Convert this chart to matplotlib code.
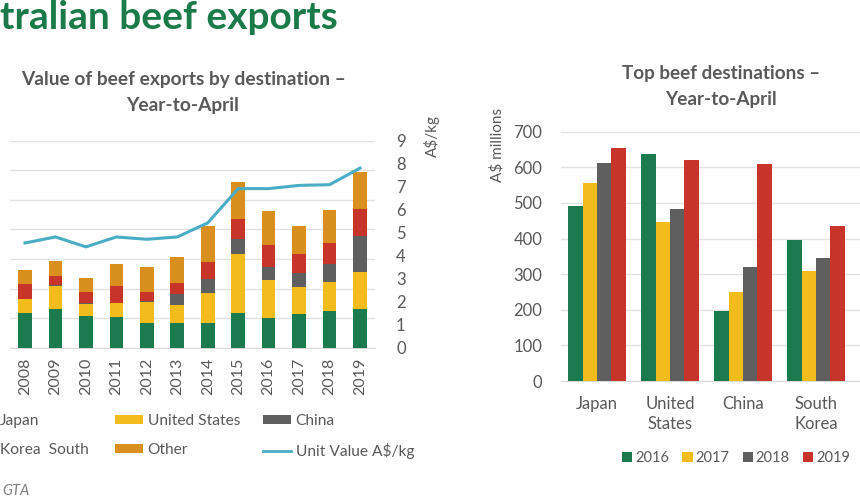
import numpy as np
import matplotlib
matplotlib.use("Agg")
import matplotlib.pyplot as plt
from matplotlib.patches import Patch
from matplotlib.lines import Line2D

plt.rcParams['font.family'] = ['Lato', 'DejaVu Sans']

# ---------------- data ----------------
years = [str(y) for y in range(2008, 2020)]
japan = [593, 649, 536, 525, 423, 423, 423, 593, 497, 565, 621, 649]
united_states = [226, 395, 203, 226, 350, 294, 497, 994, 649, 457, 485, 638]
china = [10, 10, 10, 10, 10, 192, 248, 248, 209, 237, 310, 604]
korea_south = [243, 158, 192, 282, 164, 181, 277, 344, 384, 322, 361, 452]
other = [237, 254, 243, 378, 418, 440, 615, 621, 565, 480, 553, 621]
unit_value = [4.55, 4.81, 4.38, 4.81, 4.71, 4.81, 5.42, 6.91, 6.91, 7.05, 7.08, 7.80]

destinations = ['Japan', 'United\nStates', 'China', 'South\nKorea', '']
top_years = ['2016', '2017', '2018', '2019']
v2016 = [492, 637, 197, 396, 579]
v2017 = [557, 446, 249, 310, np.nan]
v2018 = [611, 483, 321, 344, np.nan]
v2019 = [653, 621, 609, 435, np.nan]

# ---------------- style ----------------
GREEN = '#1B7A4E'
YELLOW = '#F2BC1C'
GREY = '#5F5F5F'
RED = '#C7352A'
ORANGE = '#D98F1E'
LINE = '#4BACC6'
TXT = '#595959'
GRID = '#E3E3E3'

W, H = 860, 500
fig = plt.figure(figsize=(W / 100, H / 100), dpi=100)
fig.patch.set_facecolor('white')

def fx(px):
    return px / W

def fy(py):
    return 1 - py / H

# slide heading (its start is cropped off in the reference image)
fig.text(fx(338), fy(29), 'tralian beef exports', ha='right', va='baseline',
         fontsize=28, fontweight='bold', color='#1B7A4A')

# ---------------- left chart ----------------
axL = fig.add_axes([fx(9.8), fy(347.7), (375.2 - 9.8) / W, (347.7 - 140.5) / H])
x = np.arange(len(years))
bw = 0.45
series = [(japan, GREEN, 'Japan'), (united_states, YELLOW, 'United States'),
          (china, GREY, 'China'), (korea_south, RED, 'Korea  South'),
          (other, ORANGE, 'Other')]
bottom = np.zeros(len(years))
for vals, col, lab in series:
    axL.bar(x, vals, bw, bottom=bottom, color=col, zorder=3)
    bottom += np.array(vals)
axL.set_xlim(-0.5, 11.5)
axL.set_ylim(0, 3500)
axL.set_yticks(np.arange(0, 3501, 500))
axL.yaxis.grid(True, color=GRID, lw=1, zorder=0)
axL.set_xticks(x)
axL.set_xticklabels(years, rotation=90, fontsize=11.5, color=TXT)
axL.tick_params(axis='x', length=0, pad=7)
for s in axL.spines.values():
    s.set_visible(False)
axL.spines['bottom'].set_visible(True)
axL.spines['bottom'].set_color('#D9D9D9')

axR = axL.twinx()
axR.plot(x, unit_value, color=LINE, lw=2.2, zorder=4)
axR.set_ylim(0, 9)
axR.set_yticks(range(0, 10))
axR.tick_params(axis='y', length=0, pad=15, labelsize=12, labelcolor=TXT)
for s in axR.spines.values():
    s.set_visible(False)
axL.tick_params(axis='y', left=False, right=False, labelleft=False, labelright=False)
fig.text(fx(432), fy(136), 'A$/kg', rotation=90, ha='center', va='center',
         fontsize=11, color=TXT)

fig.text(fx(183), fy(80), 'Value of beef exports by destination –', ha='center',
         va='center', fontsize=13.8, fontweight='bold', color=TXT)
fig.text(fx(183), fy(106), 'Year-to-April', ha='center', va='center',
         fontsize=13.8, fontweight='bold', color=TXT)

# legends (three columns)
h = {lab: Patch(facecolor=col) for vals, col, lab in series}
hl = Line2D([0], [0], color=LINE, lw=2)
cols = [([h['Japan'], h['Korea  South']], ['Japan', 'Korea  South'], -33),
        ([h['United States'], h['Other']], ['United States', 'Other'], 115),
        ([h['China'], hl], ['China', 'Unit Value A$/kg'], 263)]
for hs, ls, px in cols:
    fig.legend(hs, ls, loc='upper left', bbox_to_anchor=(fx(px), fy(414)),
               frameon=False, fontsize=11.2, handlelength=1.8,
               handleheight=0.5, handletextpad=0.3, labelspacing=0.95,
               borderpad=0, borderaxespad=0, labelcolor=TXT)

fig.text(fx(2), fy(491), 'GTA', ha='left', va='center', fontsize=10.5,
         style='italic', color='#7F7F7F')

# ---------------- right chart ----------------
ax2 = fig.add_axes([fx(560.5), fy(381), 365 / W, (381 - 131.7) / H])
xd = np.arange(len(destinations))
w2 = 0.196
cols2 = [GREEN, YELLOW, GREY, RED]
vals2 = [v2016, v2017, v2018, v2019]
for i, (vals, col, lab) in enumerate(zip(vals2, cols2, top_years)):
    ax2.bar(xd + (i - 1.5) * w2, vals, w2, color=col, label=lab, zorder=3)
ax2.set_xlim(-0.5, 4.5)
ax2.set_ylim(0, 700)
ax2.set_yticks(range(0, 701, 100))
ax2.yaxis.grid(True, color=GRID, lw=1, zorder=0)
ax2.tick_params(axis='y', length=0, pad=13, labelsize=12, labelcolor=TXT)
ax2.set_xticks(xd)
ax2.set_xticklabels(destinations, fontsize=12, color=TXT, linespacing=1.3)
ax2.tick_params(axis='x', length=0, pad=11)
for s in ax2.spines.values():
    s.set_visible(False)
ax2.spines['bottom'].set_visible(True)
ax2.spines['bottom'].set_color('#D9D9D9')
fig.text(fx(497), fy(145), 'A$ millions', rotation=90, ha='center', va='center',
         fontsize=11, color=TXT)
fig.text(fx(721), fy(74), 'Top beef destinations –', ha='center', va='center',
         fontsize=13.6, fontweight='bold', color=TXT)
fig.text(fx(721), fy(100), 'Year-to-April', ha='center', va='center',
         fontsize=13.6, fontweight='bold', color=TXT)
ax2.legend(loc='center', bbox_to_anchor=(fx(736), fy(458)),
           bbox_transform=fig.transFigure, ncol=4, frameon=False, fontsize=10.5,
           handlelength=0.7, handleheight=0.7, handletextpad=0.2,
           columnspacing=0.9, labelcolor=TXT)

fig.savefig('out.png', dpi=100)
